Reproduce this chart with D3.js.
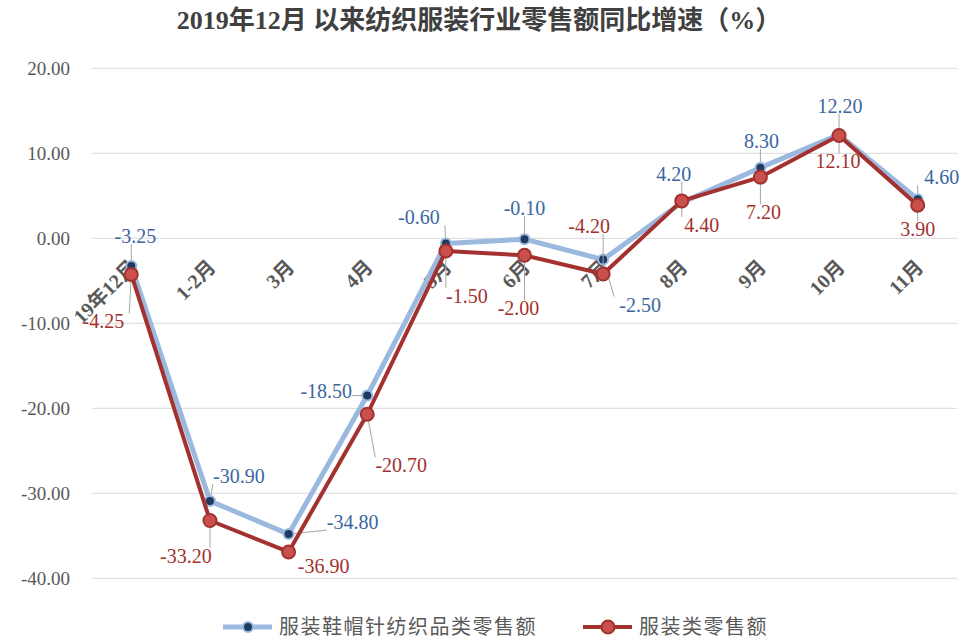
<!DOCTYPE html>
<html>
<head>
<meta charset="utf-8">
<script src="https://cdn.jsdelivr.net/npm/d3@7/dist/d3.min.js"></script>
<style>
  body { margin: 0; background: #fff; }
  text { font-family: "Liberation Serif", "Times New Roman", "Noto Sans CJK SC", serif; }
</style>
</head>
<body>
<div class="container"></div>
<script>
const categories = ["19年12月", "1-2月", "3月", "4月", "5月", "6月", "7月", "8月", "9月", "10月", "11月"]
const seriesNames = ["服装鞋帽针纺织品类零售额", "服装类零售额"]
const shoesValues = [-3.25, -30.9, -34.8, -18.5, -0.6, -0.1, -2.5, 4.2, 8.3, 12.2, 4.6]
const clothValues = [-4.25, -33.2, -36.9, -20.7, -1.5, -2.0, -4.2, 4.4, 7.2, 12.1, 3.9]
const yTicks = [20, 10, 0, -10, -20, -30, -40]

// where each data label sits, relative to its point (layout only)
const shoesLabelOffsets = [[4, -30], [29, -25], [64, -12], [-41, -5], [-27, -26], [0, -31], [37, 45], [-8, -29], [1, -27], [1, -29], [24, -22]]
const clothLabelOffsets = [[-28, 47], [-24, 35], [35, 14], [34, 51], [21, 45], [-6, 53], [-14, -48], [20, 24], [3, 35], [-1, 26], [0, 24]]

const width = 962, height = 641
const svg = d3.select(".container").append("svg")
  .attr("width", width)
  .attr("height", height)

const x = d3.scaleBand().domain(categories).range([92, 957])
const y = d3.scaleLinear().domain([-40, 20]).range([578.3, 68.3])
const cx = d => x(d) + x.bandwidth() / 2

// title
svg.append("text")
  .attr("x", 479).attr("y", 29)
  .attr("text-anchor", "middle")
  .attr("font-size", 26).attr("font-weight", "bold")
  .attr("fill", "#404040")
  .text("2019年12月 以来纺织服装行业零售额同比增速（%）")

// grid + y labels
svg.append("g").selectAll("line").data(yTicks).enter()
  .append("line")
  .attr("x1", 92).attr("x2", 957)
  .attr("y1", d => y(d)).attr("y2", d => y(d))
  .attr("stroke", "#d9d9d9").attr("stroke-width", 1)

svg.append("g").selectAll("text").data(yTicks).enter()
  .append("text")
  .attr("x", 70).attr("y", d => y(d))
  .attr("dy", "0.35em")
  .attr("text-anchor", "end")
  .attr("font-size", 19).attr("fill", "#595959")
  .text(d => d.toFixed(2))

// category labels, rotated
svg.append("g").selectAll("text").data(categories).enter()
  .append("text")
  .attr("transform", d => `translate(${cx(d) + 7},${y(0) + 30}) rotate(-45)`)
  .attr("text-anchor", "end")
  .attr("font-size", 20).attr("font-weight", "bold").attr("fill", "#595959")
  .text(d => d)

function drawSeries(values, offsets, opt) {
  const pts = values.map((v, i) => [cx(categories[i]), y(v)])
  const line = d3.line()
  const g = svg.append("g")

  const labelG = svg.append("g")
  values.forEach((v, i) => {
    const [px, py] = pts[i]
    const lx = px + offsets[i][0], ly = py + offsets[i][1]
    const w = 52, h = 16
    // leader line goes to the nearest edge of the label box
    const ex = Math.max(lx - w / 2, Math.min(px, lx + w / 2))
    const ey = Math.max(ly - h / 2, Math.min(py, ly + h / 2))
    const dist = Math.hypot(ex - px, ey - py)
    if (dist > 12) {
      g.append("line")
        .attr("x1", px).attr("y1", py).attr("x2", ex).attr("y2", ey)
        .attr("stroke", "#a6a6a6").attr("stroke-width", 1)
    }
    labelG.append("text")
      .attr("x", lx).attr("y", ly).attr("dy", "0.35em")
      .attr("text-anchor", "middle")
      .attr("font-size", 20).attr("fill", opt.labelColor)
      .text(v.toFixed(2))
  })

  g.append("path")
    .attr("d", line(pts))
    .attr("fill", "none")
    .attr("stroke", opt.lineColor).attr("stroke-width", opt.lineWidth)
    .attr("stroke-linejoin", "round")

  g.selectAll("circle").data(pts).enter()
    .append("circle")
    .attr("cx", d => d[0]).attr("cy", d => d[1])
    .attr("r", opt.r)
    .attr("fill", opt.markerFill)
    .attr("stroke", opt.markerStroke).attr("stroke-width", 2)
}

const shoesStyle = { lineColor: "#9bb8df", lineWidth: 5, r: 5, markerFill: "#1f3a60", markerStroke: "#9bb8df", labelColor: "#3a66a0" }
const clothStyle = { lineColor: "#a3312f", lineWidth: 4, r: 6.5, markerFill: "#c9504c", markerStroke: "#a3312f", labelColor: "#a3312f" }

drawSeries(shoesValues, shoesLabelOffsets, shoesStyle)
drawSeries(clothValues, clothLabelOffsets, clothStyle)

// legend
const legend = svg.append("g")
const legendItems = [
  { name: seriesNames[0], x: 223, style: shoesStyle },
  { name: seriesNames[1], x: 583, style: clothStyle }
]
legendItems.forEach(it => {
  const ly = 627
  legend.append("line")
    .attr("x1", it.x).attr("x2", it.x + 49).attr("y1", ly).attr("y2", ly)
    .attr("stroke", it.style.lineColor).attr("stroke-width", it.style.lineWidth)
  legend.append("circle")
    .attr("cx", it.x + 25).attr("cy", ly).attr("r", it.style.r)
    .attr("fill", it.style.markerFill)
    .attr("stroke", it.style.markerStroke).attr("stroke-width", 2)
  legend.append("text")
    .attr("x", it.x + 56).attr("y", ly).attr("dy", "0.35em")
    .attr("font-size", 20).attr("letter-spacing", 1.5).attr("fill", "#595959")
    .text(it.name)
})
</script>
</body>
</html>
